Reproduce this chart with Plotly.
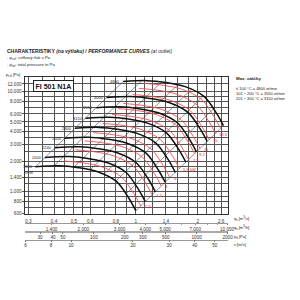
import math
import plotly.graph_objects as go

# ---------------- data ----------------
Q_MIN, Q_MAX = 0.29, 2.80          # m3/s, x range
P_MIN, P_MAX = 600, 14000          # Pa, y range
OUTLET_AREA = 0.0484               # m2 (links v and pd scales to qv)
RHO = 1.2

rpm_labels = ["1800", "2000", "2240", "2500", "2800", "3150", "3550", "4000", "4800"]
black_q = [
    [0.325, 0.424, 0.526, 0.652, 0.807, 0.928, 1.000],
    [0.361, 0.471, 0.584, 0.724, 0.897, 1.031, 1.111],
    [0.404, 0.528, 0.655, 0.811, 1.004, 1.155, 1.244],
    [0.451, 0.589, 0.731, 0.906, 1.121, 1.289, 1.389],
    [0.506, 0.660, 0.818, 1.014, 1.255, 1.444, 1.556],
    [0.569, 0.742, 0.921, 1.141, 1.412, 1.624, 1.750],
    [0.641, 0.836, 1.037, 1.286, 1.592, 1.830, 1.972],
    [0.722, 0.942, 1.169, 1.449, 1.793, 2.062, 2.222],
    [0.867, 1.131, 1.403, 1.739, 2.152, 2.475, 2.667],
]
black_p = [
    [1780, 1820, 1740, 1585, 1260, 850, 645],
    [2198, 2247, 2148, 1957, 1556, 1049, 796],
    [2757, 2819, 2695, 2455, 1951, 1316, 999],
    [3434, 3511, 3356, 3057, 2431, 1640, 1244],
    [4307, 4404, 4210, 3835, 3049, 2057, 1561],
    [5451, 5574, 5329, 4854, 3859, 2603, 1975],
    [6924, 7079, 6768, 6165, 4901, 3306, 2509],
    [8790, 8988, 8593, 7827, 6222, 4198, 3185],
    [12658, 12942, 12373, 11271, 8960, 6044, 4587],
]

kw_labels = ["1,5", "2,2", "3", "4", "5,5 kW", "7,5", "9,2", "11", "15", "18,5", ""]
red_q = [
    [0.448, 0.555, 0.688, 0.852, 0.980, 1.056],
    [0.509, 0.631, 0.782, 0.968, 1.114, 1.200],
    [0.564, 0.700, 0.867, 1.073, 1.234, 1.330],
    [0.621, 0.770, 0.954, 1.181, 1.358, 1.464],
    [0.690, 0.856, 1.061, 1.314, 1.511, 1.628],
    [0.766, 0.950, 1.177, 1.457, 1.676, 1.806],
    [0.819, 1.016, 1.259, 1.558, 1.792, 1.931],
    [0.869, 1.078, 1.337, 1.654, 1.902, 2.050],
    [0.963, 1.195, 1.481, 1.834, 2.109, 2.272],
    [1.034, 1.283, 1.590, 1.968, 2.263, 2.439],
    [1.095, 1.359, 1.684, 2.085, 2.397, 2.583],
]
red_p = [
    [2028, 1939, 1766, 1404, 947, 719],
    [2621, 2506, 2282, 1814, 1224, 929],
    [3220, 3078, 2804, 2229, 1504, 1141],
    [3900, 3729, 3397, 2700, 1822, 1382],
    [4823, 4611, 4200, 3339, 2253, 1709],
    [5933, 5672, 5167, 4108, 2771, 2103],
    [6787, 6488, 5910, 4698, 3170, 2405],
    [7649, 7312, 6661, 5295, 3572, 2711],
    [9397, 8984, 8183, 6505, 4389, 3330],
    [10825, 10350, 9428, 7494, 5056, 3836],
    [12147, 11613, 10578, 8409, 5673, 4305],
]

# thin diagonal operating lines (from the lowest to the highest speed curve)
diag_q = [[0.325, 0.867], [0.40, 1.067], [0.50, 1.333], [0.60, 1.600],
          [0.70, 1.867], [0.80, 2.133], [0.90, 2.400], [1.00, 2.667]]
diag_p = [[1780, 12658], [1815, 12907], [1765, 12551], [1660, 11804],
          [1500, 10667], [1280, 9102], [960, 6827], [645, 4587]]

q_ticks = [0.3, 0.4, 0.5, 0.6, 0.8, 1, 1.4, 2, 2.6]
q_ticktext = ["0,3", "0,4", "0,5", "0,6", "0,8", "1", "1,4", "2", "2,6"]
q_minor = [0.35, 0.45, 0.55, 0.7, 0.9, 1.1, 1.2, 1.6, 1.8, 2.2, 2.4, 2.8]
p_ticks = [600, 800, 1000, 1400, 2000, 3000, 4000, 5000, 6000, 8000, 10000, 12000]
p_ticktext = ["600", "800", "1.000", "1.400", "2.000", "3.000", "4.000", "5.000",
              "6.000", "8.000", "10.000", "12.000"]
p_minor = [700, 900, 1200, 1600, 1800, 2500, 3500, 4500, 7000, 9000, 14000]
qh_ticks = [1400, 2000, 3000, 4000, 5000, 7000, 10000]
qh_ticktext = ["1.400", "2.000", "3.000", "4.000", "5.000", "7.000", "10.000"]
pd_ticks = [30, 40, 50, 100, 200, 300, 500, 1000, 2000]
v_ticks = [6, 8, 10, 20, 30, 40, 50]

FONT = "Liberation Sans, Arial, sans-serif"
W = H = 300
L_PX, R_PX, T_PX, B_PX = 25, 233, 78, 216


def px_x(x):
    return x / W


def px_y(y):
    return 1 - y / H


fig = go.Figure()

for q, p in zip(diag_q, diag_p):
    fig.add_trace(go.Scatter(x=q, y=p, mode="lines", line=dict(color="#444", width=0.6),
                             hoverinfo="skip", showlegend=False))
for q, p in zip(red_q, red_p):
    fig.add_trace(go.Scatter(x=q, y=p, mode="lines",
                             line=dict(color="#f0504f", width=0.9, shape="spline", smoothing=0.9),
                             hoverinfo="skip", showlegend=False))
for q, p in zip(black_q, black_p):
    fig.add_trace(go.Scatter(x=q, y=p, mode="lines",
                             line=dict(color="#111111", width=1.5, shape="spline", smoothing=0.9),
                             hoverinfo="skip", showlegend=False))

# dummy traces so the secondary scales exist
q_to_h = lambda q: q * 3600.0
q_to_v = lambda q: q / OUTLET_AREA
q_to_pd = lambda q: 0.5 * RHO * (q / OUTLET_AREA) ** 2
for ax, f in (("x2", q_to_h), ("x3", q_to_pd), ("x4", q_to_v)):
    fig.add_trace(go.Scatter(x=[f(Q_MIN), f(Q_MAX)], y=[P_MIN, P_MIN], xaxis=ax, yaxis="y",
                             mode="lines", line=dict(width=0, color="rgba(0,0,0,0)"),
                             hoverinfo="skip", showlegend=False))

annotations = []
# rpm labels
for lab, q, p in zip(rpm_labels, black_q, black_p):
    annotations.append(dict(x=math.log10(q[0]), y=math.log10(p[0]), xref="x", yref="y",
                            text=lab, showarrow=False, xanchor="right", yanchor="middle",
                            xshift=-1, font=dict(size=4, color="#222", family=FONT)))
annotations.append(dict(x=math.log10(black_q[0][0]), y=math.log10(black_p[0][0]), xref="x", yref="y",
                        text="RPM", showarrow=False, xanchor="right", yanchor="top",
                        xshift=-1, yshift=-1.5, font=dict(size=4, color="#222", family=FONT)))
# kW labels
for lab, q, p in zip(kw_labels, red_q, red_p):
    if lab:
        annotations.append(dict(x=math.log10(q[-1]), y=math.log10(p[-1]), xref="x", yref="y",
                                text=lab, showarrow=False, xanchor="left", yanchor="middle",
                                xshift=2, yshift=-1, font=dict(size=4.2, color="#e03030", family=FONT)))

def txt(x, y, s, size, anchor="left", color="#222", ya="middle"):
    annotations.append(dict(x=px_x(x), y=px_y(y), xref="paper", yref="paper", text=s,
                            showarrow=False, xanchor=anchor, yanchor=ya, borderpad=0,
                            font=dict(size=size, color=color, family=FONT)))

txt(5, 52, "<b>CHARAKTERISTIKY</b> <b><i>(na výtlaku)</i></b> <b>/ <i>PERFORMANCE CURVES</i></b> <i>(at outlet)</i>", 5)
txt(5, 59, "- p<sub>cel</sub>: celkový tlak v Pa", 4.3)
txt(5, 66, "- p<sub>tot</sub>: total pressure in Pa", 4.3)
txt(4, 76, "p<sub>cel</sub> [Pa]", 4)
txt(240, 79, "<b>Max. otáčky</b>", 4.4)
txt(240, 89, "≤ 100 °C = 4800 ot/min", 4)
txt(240, 94, "101 ÷ 200 °C = 3550 ot/min", 4)
txt(240, 99, "201 ÷ 300 °C = 3150 ot/min", 4)
txt(238, 221, "q<sub>v</sub> [m<sup>3</sup>/s]", 4)
txt(238, 230, "q<sub>v</sub> [m<sup>3</sup>/h]", 4)
txt(238, 239, "p<sub>d</sub> [Pa]", 4)
txt(238, 247, "v [m/s]", 4)
annotations.append(dict(x=px_x(54), y=px_y(87), xref="paper", yref="paper",
                        text="<b>FI 501 N1A</b>", showarrow=False, xanchor="center", yanchor="middle",
                        bordercolor="#222", borderwidth=1, borderpad=1.5, bgcolor="white",
                        font=dict(size=7, color="#111", family=FONT)))

grid = dict(showgrid=True, gridcolor="#555", gridwidth=0.5)
tickfont = dict(size=4.6, color="#333", family=FONT)

fig.update_layout(
    width=W, height=H, margin=dict(l=0, r=0, t=0, b=0),
    paper_bgcolor="white", plot_bgcolor="white",
    font=dict(family=FONT, size=5, color="#222"),
    annotations=annotations,
    xaxis=dict(type="log", range=[math.log10(Q_MIN), math.log10(Q_MAX)],
               domain=[px_x(L_PX), px_x(R_PX)], anchor="y",
               tickmode="array", tickvals=q_ticks, ticktext=q_ticktext,
               ticks="outside", ticklen=2.5, tickcolor="rgba(0,0,0,0)", tickfont=tickfont, **grid,
               minor=dict(tickmode="array", tickvals=q_minor, showgrid=True, gridcolor="#555", gridwidth=0.5, ticks=""),
               showline=True, mirror=True, linecolor="#333", linewidth=0.8, zeroline=False),
    yaxis=dict(type="log", range=[math.log10(P_MIN), math.log10(P_MAX)],
               domain=[px_y(B_PX), px_y(T_PX)], anchor="x",
               tickmode="array", tickvals=p_ticks, ticktext=p_ticktext,
               ticks="outside", ticklen=2, tickwidth=0.6, tickcolor="#555", tickfont=tickfont, **grid,
               minor=dict(tickmode="array", tickvals=p_minor, showgrid=True, gridcolor="#555", gridwidth=0.5, ticks=""),
               showline=True, mirror=True, linecolor="#333", linewidth=0.8, zeroline=False),
    xaxis2=dict(type="log", overlaying="x", anchor="free", position=px_y(225),
                range=[math.log10(q_to_h(Q_MIN)), math.log10(q_to_h(Q_MAX))],
                tickmode="array", tickvals=qh_ticks, ticktext=qh_ticktext, tickfont=tickfont,
                ticks="outside", ticklen=1.5, tickwidth=0.5, tickcolor="#777",
                minor=dict(ticks="outside", ticklen=1, dtick="D1", tickcolor="#999", tickwidth=0.4),
                showgrid=False, showline=True, linecolor="#999", linewidth=1, zeroline=False),
    xaxis3=dict(type="log", overlaying="x", anchor="free", position=px_y(234),
                range=[math.log10(q_to_pd(Q_MIN)), math.log10(q_to_pd(Q_MAX))],
                tickmode="array", tickvals=pd_ticks, ticktext=[str(t) for t in pd_ticks], tickfont=tickfont,
                ticks="outside", ticklen=1.5, tickwidth=0.5, tickcolor="#777",
                minor=dict(ticks="outside", ticklen=1, dtick="D1", tickcolor="#999", tickwidth=0.4),
                showgrid=False, showline=True, linecolor="#aaa", linewidth=1.5, zeroline=False),
    xaxis4=dict(type="log", overlaying="x", anchor="free", position=px_y(242),
                range=[math.log10(q_to_v(Q_MIN)), math.log10(q_to_v(Q_MAX))],
                tickmode="array", tickvals=v_ticks, ticktext=[str(t) for t in v_ticks], tickfont=tickfont,
                ticks="outside", ticklen=1.5, tickwidth=0.5, tickcolor="#777",
                showgrid=False, showline=True, linecolor="#999", linewidth=0.6, zeroline=False),
)

fig.write_html("out.html")
